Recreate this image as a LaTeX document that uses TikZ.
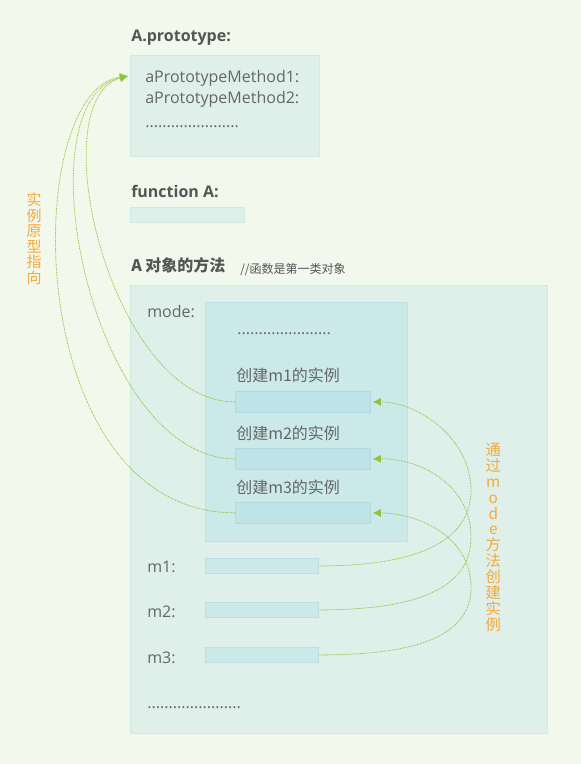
\documentclass[tikz,border=0pt]{standalone}
\usepackage{fontspec}
\setmainfont{Open Sans}
\newfontfamily\cjk{Noto Sans CJK SC}
\usetikzlibrary{arrows.meta}
\definecolor{bg}{HTML}{F3F8EC}
\definecolor{boxfill}{HTML}{DFF0EA}
\definecolor{boxline}{HTML}{D2E9E2}
\definecolor{innerfill}{HTML}{CCE9EA}
\definecolor{innerline}{HTML}{C0E1E5}
\definecolor{barfill}{HTML}{BFE4E8}
\definecolor{barline}{HTML}{B0DAE0}
\definecolor{mfill}{HTML}{CCE9EA}
\definecolor{mline}{HTML}{BCDFE4}
\definecolor{txt}{HTML}{666666}
\definecolor{head}{HTML}{555555}
\definecolor{arcgreen}{HTML}{8CC43C}
\definecolor{lbl}{HTML}{F5A93A}
\begin{document}
\begin{tikzpicture}[x=0.75pt,y=-0.75pt,
  rbox/.style={draw=boxline, fill=boxfill, line width=0.6pt, inner sep=0, anchor=north west},
  ibox/.style={draw=innerline, fill=innerfill, line width=0.6pt, inner sep=0, anchor=north west},
  bbar/.style={draw=barline, fill=barfill, line width=0.6pt, inner sep=0, anchor=north west},
  mbar/.style={draw=mline, fill=mfill, line width=0.6pt, inner sep=0, anchor=north west},
  fbar/.style={draw=boxline, fill=boxfill, line width=0.6pt, inner sep=0, anchor=north west},
  htext/.style={anchor=base west, inner sep=0, text=head, font=\fontsize{12}{14}\selectfont\bfseries},
  rtext/.style={anchor=base west, inner sep=0, text=txt, font=\fontsize{12}{14}\selectfont},
  ctext/.style={anchor=base west, inner sep=0, text=txt, font=\cjk\fontsize{12}{14}\selectfont},
  conn/.style={draw=arcgreen, line width=0.6pt, dash pattern=on 0.6pt off 0.6pt, -{Latex[length=6pt,width=6pt]}},
  vlabel/.style={anchor=north, inner sep=0, text=lbl, align=center}
]
\useasboundingbox (0,0) rectangle (581,764);
\fill[bg] (0,0) rectangle (581,764);

% prototype
\node[htext] (tproto) at (131,41) {A.prototype:};
\node[rbox, minimum width=141.75pt, minimum height=75.75pt] (proto) at (130,55) {};
\node[rtext] (pm1) at (145,82) {aPrototypeMethod1:};
\node[rtext] (pm2) at (145,103.5) {aPrototypeMethod2:};
\node[rtext] (pdots) at (145,127) {......................};

% function A
\node[htext] (tfunc) at (131,197) {function A:};
\node[fbar, minimum width=85.5pt, minimum height=11.25pt] (fbarA) at (130,207) {};

% methods
\node[htext, font=\cjk\fontsize{12}{14}\selectfont\bfseries] (tmeth) at (131,271) {A 对象的方法};
\node[anchor=base west, inner sep=0, text=head, font=\cjk\fontsize{9}{11}\selectfont] (tcomment) at (240,273) {//函数是第一类对象};

\node[rbox, minimum width=312.75pt, minimum height=336pt] (big) at (130,285) {};
\node[rtext] (tmode) at (147,317) {mode:};
\node[ibox, minimum width=151.5pt, minimum height=179.25pt] (inner) at (205,302) {};
\node[rtext] (idots) at (237,334) {......................};

\node[ctext] (c1) at (236,381) {创建m1的实例};
\node[bbar, minimum width=101.25pt, minimum height=15.75pt] (bar1) at (235,391) {};
\node[ctext] (c2) at (236,439.5) {创建m2的实例};
\node[bbar, minimum width=101.25pt, minimum height=15.75pt] (bar2) at (235,448) {};
\node[ctext] (c3) at (236,493.5) {创建m3的实例};
\node[bbar, minimum width=101.25pt, minimum height=15.75pt] (bar3) at (235,502) {};

\node[rtext] (tm1) at (147,572) {m1:};
\node[mbar, minimum width=84.75pt, minimum height=11.25pt] (m1bar) at (205,558) {};
\node[rtext] (tm2) at (147,617) {m2:};
\node[mbar, minimum width=84.75pt, minimum height=11.25pt] (m2bar) at (205,602) {};
\node[rtext] (tm3) at (147,663) {m3:};
\node[mbar, minimum width=84.75pt, minimum height=11.25pt] (m3bar) at (205,647) {};
\node[rtext] (bdots) at (147,708.5) {......................};

% vertical labels
\node[vlabel, font=\cjk\fontsize{11.25}{11.6}\selectfont] (lblL) at (34.2,193) {实\\例\\原\\型\\指\\向};
\node[vlabel, font=\cjk\fontsize{11.5}{11.9}\selectfont] (lblR) at (493.3,443) {通\\过\\m\\o\\d\\e\\方\\法\\创\\建\\实\\例};

% connectors to prototype
\coordinate (tipL) at ([shift={(-2,21)}]proto.north west);
\draw[conn] (bar1.west) .. controls (110,402) and (40,100) .. (tipL);
\draw[conn] (bar2.west) .. controls (90,458) and (20,100) .. (tipL);
\draw[conn] (bar3.west) .. controls (20,512) and (20,90) .. (tipL);

% connectors from m bars
\coordinate (k1) at (471,490);
\coordinate (k2) at (471,537);
\coordinate (k3) at (471,587);
\draw[conn] (m1bar.east) .. controls (420,566) and (471,540) .. (k1) .. controls (471,440) and (420,402) .. ([shift={(2,0)}]bar1.east);
\draw[conn] (m2bar.east) .. controls (420,610) and (471,587) .. (k2) .. controls (471,485) and (420,458) .. ([shift={(2,0)}]bar2.east);
\draw[conn] (m3bar.east) .. controls (420,655) and (471,635) .. (k3) .. controls (471,538) and (420,513) .. ([shift={(2,0)}]bar3.east);
\end{tikzpicture}
\end{document}
